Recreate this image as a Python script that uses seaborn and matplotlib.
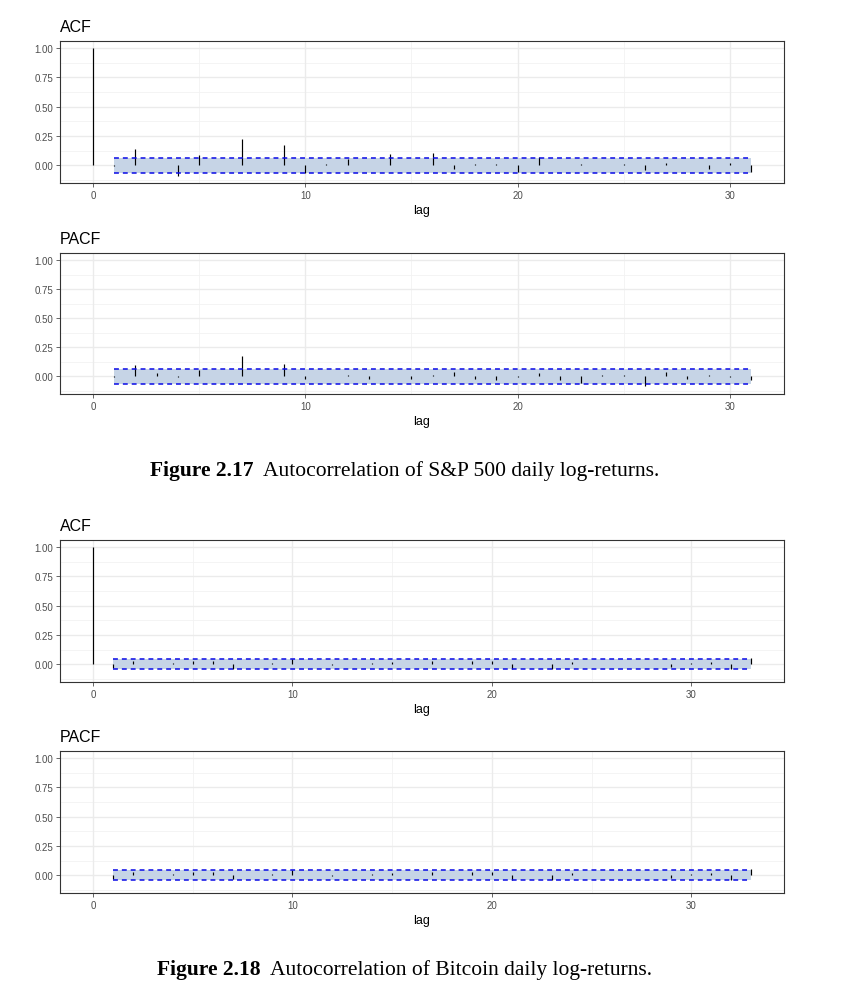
import numpy as np
import pandas as pd
import matplotlib
matplotlib.use("Agg")
import matplotlib.pyplot as plt
import seaborn as sns

# S&P 500 daily log-returns
sp_acf_lags = list(range(0, 32))
sp_acf = [1.00, -0.01, 0.137, 0.005, -0.09, 0.085, 0.005, 0.22, 0.005, 0.17,
          -0.068, 0.01, 0.057, 0.003, 0.094, 0.003, 0.10, -0.03, 0.01, 0.01,
          -0.057, 0.074, 0.005, 0.01, 0.003, 0.01, -0.04, 0.02, 0.005, -0.03,
          0.02, -0.057]
sp_pacf_lags = list(range(1, 32))
sp_pacf = [-0.01, 0.10, 0.03, -0.005, 0.054, 0.003, 0.174, 0.003, 0.105, -0.02,
           0.005, 0.015, -0.025, 0.005, -0.025, 0.015, 0.035, -0.025, -0.03, -0.01,
           0.025, -0.035, -0.06, 0.01, 0.01, -0.08, 0.035, -0.025, 0.01, -0.005,
           -0.035]
sp_ci = 0.064

# Bitcoin daily log-returns
btc_acf_lags = list(range(0, 34))
btc_acf = [1.00, -0.035, 0.03, 0.003, 0.012, 0.03, 0.028, -0.037, 0.005, 0.012,
           0.048, 0.005, -0.005, 0.005, 0.01, 0.015, 0.005, 0.03, 0.005, 0.03,
           0.03, -0.037, 0.005, -0.043, 0.015, 0.005, 0.005, 0.005, 0.003, -0.02,
           0.01, 0.02, -0.037, 0.05]
btc_pacf_lags = list(range(1, 34))
btc_pacf = [-0.035, 0.03, 0.003, 0.012, 0.03, 0.028, -0.035, 0.005, 0.012, 0.048,
            0.005, -0.005, 0.005, 0.01, 0.015, 0.005, 0.03, 0.005, 0.03, 0.03,
            -0.037, 0.005, -0.043, 0.015, 0.005, 0.005, 0.005, 0.003, -0.02, 0.01,
            0.02, -0.037, 0.05]
btc_ci = 0.045

captions = [("Figure 2.17", "Autocorrelation of S&P 500 daily log-returns."),
            ("Figure 2.18", "Autocorrelation of Bitcoin daily log-returns.")]

sns.set_style("white")
plt.rcParams["font.family"] = ["Liberation Sans", "DejaVu Sans"]

fig = plt.figure(figsize=(8.5, 10.04), dpi=100)
W, H = 850, 1004


def panel(top_px, bottom_px, lags, vals, ci, max_lag, title):
    ax = fig.add_axes([60 / W, 1 - bottom_px / H, 724 / W, (bottom_px - top_px) / H])
    ax.set_facecolor("white")
    # grid like theme_bw
    for v in [5, 15, 25]:
        ax.axvline(v, color="#F2F2F2", lw=0.6, zorder=0)
    for v in [0.125, 0.375, 0.625, 0.875, -0.125]:
        ax.axhline(v, color="#F2F2F2", lw=0.6, zorder=0)
    ax.set_xticks([0, 10, 20, 30])
    ax.set_yticks([0, 0.25, 0.5, 0.75, 1.0])
    ax.grid(True, color="#EBEBEB", lw=1.0, zorder=0)
    ax.set_axisbelow(True)

    # confidence band
    band = pd.DataFrame({"lag": [1, max_lag], "hi": [ci, ci], "lo": [-ci, -ci]})
    ax.fill_between(band["lag"], band["lo"], band["hi"], color="#C6D4E6", lw=0, zorder=1)
    sns.lineplot(data=band, x="lag", y="hi", ax=ax, color="#0A0AE6", lw=1.1,
                 linestyle=(0, (3.2, 2.6)), zorder=3)
    sns.lineplot(data=band, x="lag", y="lo", ax=ax, color="#0A0AE6", lw=1.1,
                 linestyle=(0, (3.2, 2.6)), zorder=3)

    # spikes
    ax.vlines(lags, 0, vals, color="black", lw=0.85, zorder=2)

    span = max_lag
    ax.set_xlim(-0.05 * span, span * 1.05)
    ax.set_ylim(-0.152, 1.06)
    ax.set_yticklabels(["0.00", "0.25", "0.50", "0.75", "1.00"])
    ax.set_xlabel("lag", fontsize=9, labelpad=3, color="black")
    ax.set_ylabel("")
    ax.set_title(title, loc="left", fontsize=11.5, pad=7, color="black")
    ax.tick_params(axis="both", labelsize=7, colors="#4D4D4D", length=3,
                   width=0.6, direction="out", bottom=True, left=True, pad=2)
    for s in ax.spines.values():
        s.set_color("#333333")
        s.set_linewidth(0.8)
    return ax


panel(42, 184, sp_acf_lags, sp_acf, sp_ci, 31, "ACF")
panel(254, 395, sp_pacf_lags, sp_pacf, sp_ci, 31, "PACF")
panel(541, 683, btc_acf_lags, btc_acf, btc_ci, 33, "ACF")
ax4 = panel(752, 894, btc_pacf_lags, btc_pacf, btc_ci, 33, "PACF")

# captions with bold figure number
cap_pos = [(150, 471), (157, 970)]
for (bold, rest), (xp, yp) in zip(captions, cap_pos):
    t = fig.text(xp / W, 1 - yp / H, bold, fontsize=15.5, fontweight="bold",
                 family=["Liberation Serif"], va="center", ha="left", color="black")
    ax4.annotate(rest, xy=(1, 0.5), xycoords=t, xytext=(7, 0),
                 textcoords="offset points", va="center", ha="left", color="black",
                 fontsize=15.5, family=["Liberation Serif"], annotation_clip=False)

fig.savefig("out.png", dpi=100)
